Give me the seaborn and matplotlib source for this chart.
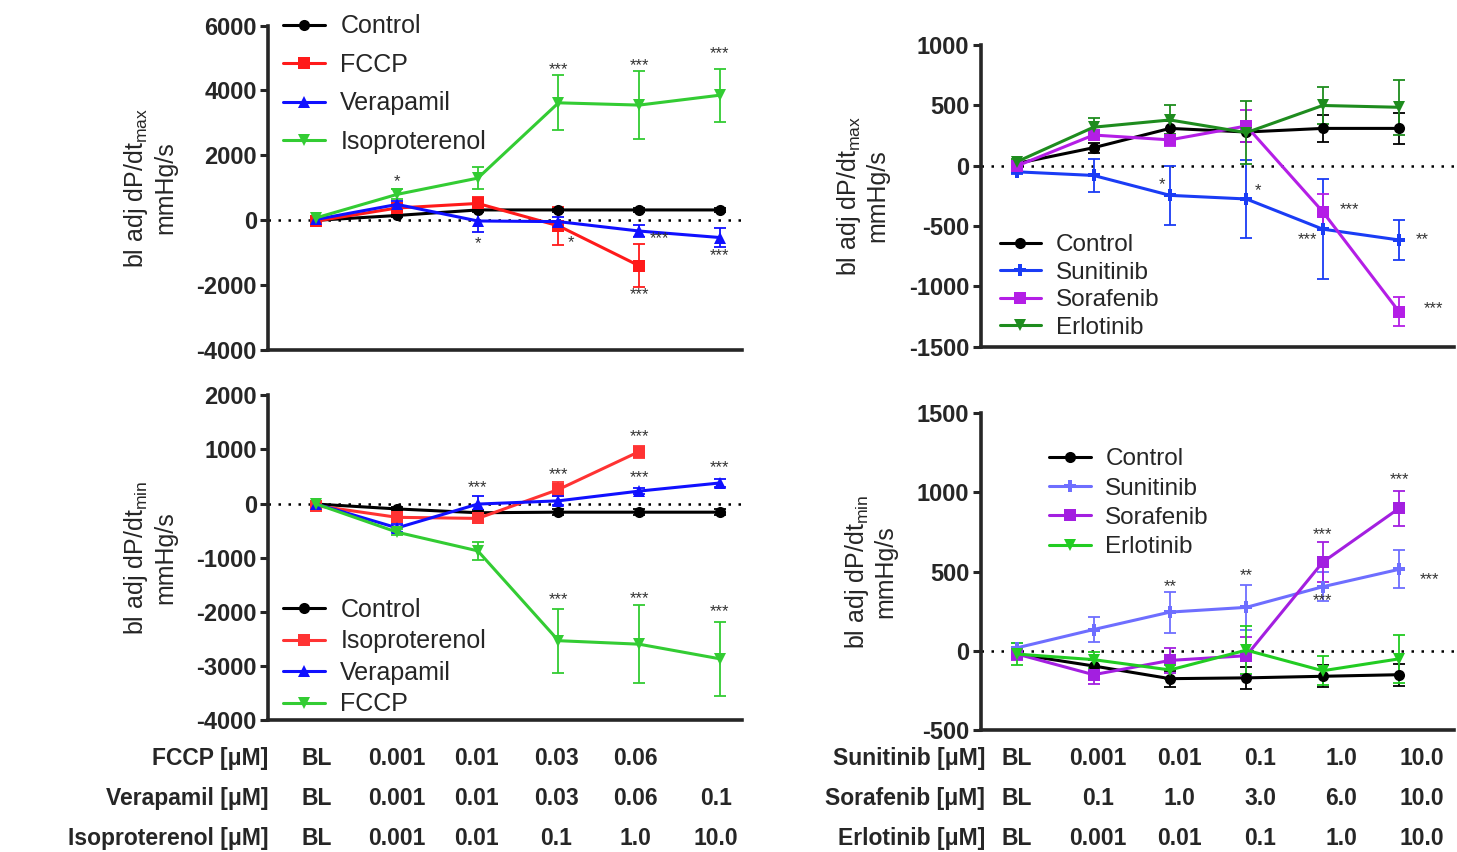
import numpy as np
import pandas as pd
import seaborn as sns
import matplotlib.pyplot as plt

# dosis (indices de columna)
dosis = [0, 1, 2, 3, 4, 5]

# panel A: dP/dt max, izquierda
ctrl_a = [0, 150, 320, 320, 320, 320]
ctrl_a_err = [30, 50, 60, 60, 60, 60]
fccp_a = [-20, 380, 520, -170, -1400]
fccp_a_err = [40, 150, 200, 580, 660]
vera_a = [30, 490, -20, -40, -330, -530]
vera_a_err = [40, 100, 350, 150, 180, 300]
iso_a = [80, 800, 1300, 3620, 3550, 3855]
iso_a_err = [60, 150, 330, 850, 1050, 820]

# panel B: dP/dt max, derecha
ctrl_b = [20, 150, 310, 280, 310, 310]
ctrl_b_err = [20, 40, 60, 80, 110, 130]
suni_b = [-50, -80, -245, -275, -525, -615]
suni_b_err = [20, 140, 245, 320, 415, 165]
sora_b = [0, 255, 215, 330, -380, -1210]
sora_b_err = [20, 40, 50, 130, 150, 120]
erlo_b = [35, 320, 380, 275, 500, 485]
erlo_b_err = [20, 80, 120, 260, 150, 230]

# panel C: dP/dt min, izquierda
ctrl_c = [-10, -100, -170, -160, -160, -160]
ctrl_c_err = [30, 40, 50, 50, 50, 50]
iso_c = [-40, -255, -275, 260, 960]
iso_c_err = [40, 60, 80, 130, 110]
vera_c = [-10, -450, -10, 50, 230, 380]
vera_c_err = [40, 70, 150, 80, 60, 70]
fccp_c = [-10, -530, -875, -2535, -2600, -2870]
fccp_c_err = [40, 60, 165, 590, 720, 680]

# panel D: dP/dt min, derecha
ctrl_d = [-20, -95, -175, -170, -160, -150]
ctrl_d_err = [30, 40, 50, 70, 70, 70]
suni_d = [20, 135, 245, 275, 405, 515]
suni_d_err = [30, 80, 130, 140, 90, 120]
sora_d = [-20, -150, -60, -30, 560, 900]
sora_d_err = [40, 60, 80, 120, 125, 110]
erlo_d = [-20, -55, -120, 5, -125, -50]
erlo_d_err = [70, 50, 60, 150, 90, 150]

# asteriscos (x, y, texto)
stars_a = [(1, 1200, "*"), (2, -730, "*"), (3.15, -690, "*"), (4.25, -560, "***"),
           (4, -2300, "***"), (5, -1100, "***"), (3, 4650, "***"), (4, 4780, "***"), (5, 5130, "***")]
stars_b = [(1.9, -160, "*"), (3.15, -205, "*"), (4.35, -360, "***"), (3.8, -615, "***"),
           (5.3, -615, "**"), (5.45, -1180, "***")]
stars_c = [(2, 290, "***"), (3, 535, "***"), (4, 1240, "***"), (4, 475, "***"),
           (5, 655, "***"), (3, -1775, "***"), (4, -1760, "***"), (5, -1990, "***")]
stars_d = [(2, 405, "**"), (3, 475, "**"), (4, 735, "***"), (4, 320, "***"),
           (5, 1080, "***"), (5.4, 450, "***")]

# tabla de concentraciones
filas_izq = ["FCCP [μM]", "Verapamil [μM]", "Isoproterenol [μM]"]
conc_izq = [["BL", "0.001", "0.01", "0.03", "0.06", ""],
            ["BL", "0.001", "0.01", "0.03", "0.06", "0.1"],
            ["BL", "0.001", "0.01", "0.1", "1.0", "10.0"]]
filas_der = ["Sunitinib [μM]", "Sorafenib [μM]", "Erlotinib [μM]"]
conc_der = [["BL", "0.001", "0.01", "0.1", "1.0", "10.0"],
            ["BL", "0.1", "1.0", "3.0", "6.0", "10.0"],
            ["BL", "0.001", "0.01", "0.1", "1.0", "10.0"]]

sns.set_style("ticks")
plt.rcParams['font.family'] = ['Liberation Sans', 'DejaVu Sans']
plt.rcParams['axes.unicode_minus'] = False

fig = plt.figure(figsize=(14.57, 8.52), dpi=100)
ax_a = fig.add_axes([0.184, 0.589, 0.325, 0.381])
ax_b = fig.add_axes([0.673, 0.593, 0.325, 0.354])
ax_c = fig.add_axes([0.184, 0.155, 0.325, 0.381])
ax_d = fig.add_axes([0.673, 0.143, 0.325, 0.372])


def panel(ax, series, ylim, yticks, xlim, ylabel, stars, legend_kw, fs_leg=18):
    rows = []
    for nombre, vals, errs, color, marker in series:
        for x, v in zip(dosis, vals):
            rows.append({"x": x, "y": v, "droga": nombre})
    df = pd.DataFrame(rows)
    nombres = [s[0] for s in series]
    pal = {s[0]: s[3] for s in series}
    mk = {s[0]: s[4] for s in series}
    ax.axhline(0, color="black", ls=(0, (1, 3)), lw=1.8, zorder=1)
    for nombre, vals, errs, color, marker in series:
        ax.errorbar(dosis[:len(vals)], vals, yerr=errs, fmt="none", ecolor=color,
                    elinewidth=1.3, capsize=4, capthick=1.3, zorder=2)
    sns.lineplot(data=df, x="x", y="y", hue="droga", style="droga", hue_order=nombres,
                 style_order=nombres, palette=pal, markers=mk, dashes=False,
                 linewidth=2.2, markersize=8, markeredgewidth=0, ax=ax, zorder=3)
    for x, y, t in stars:
        ax.text(x, y, t, ha="center", va="center", fontsize=12, color="#333333")
    ax.set_xlim(*xlim)
    ax.set_ylim(*ylim)
    ax.set_yticks(yticks)
    ax.set_xticks([])
    ax.set_xlabel("")
    ax.set_ylabel(ylabel, fontsize=18, labelpad=14, linespacing=1.15)
    for lab in ax.get_yticklabels():
        lab.set_fontweight("bold")
        lab.set_fontsize(17)
    ax.tick_params(axis="y", width=2.2, length=6, pad=2)
    sns.despine(ax=ax)
    for sp in ("left", "bottom"):
        ax.spines[sp].set_linewidth(2.6)
    ax.legend(frameon=False, fontsize=fs_leg, handlelength=1.7, handletextpad=0.6,
              borderaxespad=0, **legend_kw)


panel(ax_a,
      [("Control", ctrl_a, ctrl_a_err, "black", "o"),
       ("FCCP", fccp_a, fccp_a_err, "#ff1a1a", "s"),
       ("Verapamil", vera_a, vera_a_err, "#1010ff", "^"),
       ("Isoproterenol", iso_a, iso_a_err, "#33cc33", "v")],
      (-4000, 6000), np.arange(-4000, 6001, 2000), (-0.6, 5.27),
      "bl adj dP/dt$_{\\mathregular{max}}$\nmmHg/s", stars_a,
      dict(loc="upper left", bbox_to_anchor=(0.01, 1.065), labelspacing=0.58))

panel(ax_b,
      [("Control", ctrl_b, ctrl_b_err, "black", "o"),
       ("Sunitinib", suni_b, suni_b_err, "#1a3cf5", "P"),
       ("Sorafenib", sora_b, sora_b_err, "#b41ee6", "s"),
       ("Erlotinib", erlo_b, erlo_b_err, "#1e8c1e", "v")],
      (-1500, 1000), np.arange(-1500, 1001, 500), (-0.48, 5.72),
      "bl adj dP/dt$_{\\mathregular{max}}$\nmmHg/s", stars_b,
      dict(loc="lower left", bbox_to_anchor=(0.02, -0.005), labelspacing=0.22), fs_leg=17.5)

panel(ax_c,
      [("Control", ctrl_c, ctrl_c_err, "black", "o"),
       ("Isoproterenol", iso_c, iso_c_err, "#ff3333", "s"),
       ("Verapamil", vera_c, vera_c_err, "#1010ff", "^"),
       ("FCCP", fccp_c, fccp_c_err, "#33cc33", "v")],
      (-4000, 2000), np.arange(-4000, 2001, 1000), (-0.6, 5.27),
      "bl adj dP/dt$_{\\mathregular{min}}$\nmmHg/s", stars_c,
      dict(loc="lower left", bbox_to_anchor=(0.01, -0.02), labelspacing=0.3))

panel(ax_d,
      [("Control", ctrl_d, ctrl_d_err, "black", "o"),
       ("Sunitinib", suni_d, suni_d_err, "#6e6eff", "P"),
       ("Sorafenib", sora_d, sora_d_err, "#a31fe0", "s"),
       ("Erlotinib", erlo_d, erlo_d_err, "#22cc22", "v")],
      (-500, 1500), np.arange(-500, 1501, 500), (-0.48, 5.72),
      "bl adj dP/dt$_{\\mathregular{min}}$\nmmHg/s", stars_d,
      dict(loc="upper left", bbox_to_anchor=(0.125, 0.92), labelspacing=0.3), fs_leg=17.5)

# tabla inferior de concentraciones
y_filas = [0.11, 0.063, 0.016]
for ax, filas, conc in ((ax_c, filas_izq, conc_izq), (ax_d, filas_der, conc_der)):
    tr = ax.get_xaxis_transform()
    for j, (fila, vals) in enumerate(zip(filas, conc)):
        yy = (y_filas[j] - ax.get_position().y0) / ax.get_position().height
        ax.text(-0.6 if ax is ax_c else -0.42, yy, fila, transform=tr, ha="right", va="center",
                fontsize=16.5, fontweight="bold", clip_on=False)
        for i, v in enumerate(vals):
            ax.text(dosis[i] * (0.99 if ax is ax_c else 1.06), yy, v, transform=tr,
                    ha="center", va="center", fontsize=16.5, fontweight="bold", clip_on=False)

fig.savefig("out.png", dpi=100)
